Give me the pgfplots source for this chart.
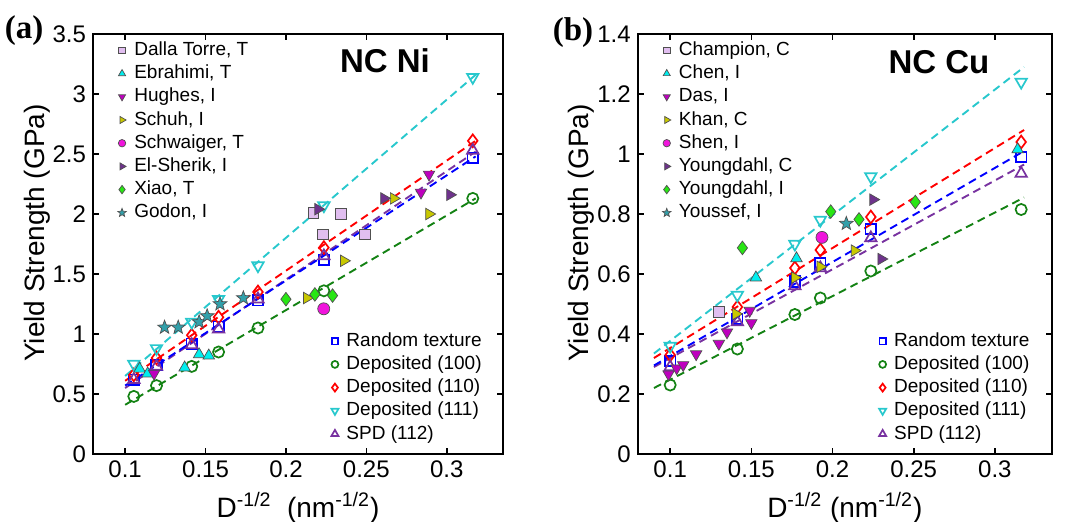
\documentclass[border=0pt]{standalone}
\usepackage{fontspec}
\setmainfont{Liberation Sans}
\newfontfamily\serifbf{Liberation Serif}
\usepackage{pgfplots}
\pgfplotsset{compat=1.18}
\usetikzlibrary{plotmarks}

\definecolor{simblue}{RGB}{0,0,255}
\definecolor{simgreen}{RGB}{20,130,20}
\definecolor{simred}{RGB}{255,0,0}
\definecolor{simcyan}{RGB}{40,200,205}
\definecolor{simpurple}{RGB}{120,50,160}
\definecolor{edgegray}{RGB}{80,80,80}
\definecolor{lavender}{RGB}{225,190,240}
\definecolor{ebcyan}{RGB}{0,238,238}
\definecolor{hughes}{RGB}{190,0,190}
\definecolor{olive}{RGB}{200,200,0}
\definecolor{schwaiger}{RGB}{240,20,220}
\definecolor{elsherik}{RGB}{110,50,140}
\definecolor{xiao}{RGB}{40,230,20}
\definecolor{godon}{RGB}{50,160,170}

% filled five-pointed star
\pgfdeclareplotmark{fstar}{%
  \pgfpathmoveto{\pgfqpointpolar{90}{\pgfplotmarksize}}%
  \pgfpathlineto{\pgfqpointpolar{126}{0.42\pgfplotmarksize}}%
  \pgfpathlineto{\pgfqpointpolar{162}{\pgfplotmarksize}}%
  \pgfpathlineto{\pgfqpointpolar{198}{0.42\pgfplotmarksize}}%
  \pgfpathlineto{\pgfqpointpolar{234}{\pgfplotmarksize}}%
  \pgfpathlineto{\pgfqpointpolar{270}{0.42\pgfplotmarksize}}%
  \pgfpathlineto{\pgfqpointpolar{306}{\pgfplotmarksize}}%
  \pgfpathlineto{\pgfqpointpolar{342}{0.42\pgfplotmarksize}}%
  \pgfpathlineto{\pgfqpointpolar{18}{\pgfplotmarksize}}%
  \pgfpathlineto{\pgfqpointpolar{54}{0.42\pgfplotmarksize}}%
  \pgfpathclose
  \pgfusepathqfillstroke
}

\pgfplotsset{
  panel/.style={
    scale only axis, height=210pt,
    xmin=0.08, xmax=0.335,
    xtick={0.1,0.15,0.2,0.25,0.3},
    tick align=inside,
    major tick length=3pt,
    every tick/.style={black, line width=0.8pt},
    axis line style={line width=0.9pt},
    tick label style={font=\fontsize{12}{14}\selectfont},
    /pgf/number format/assume math mode=true,
    clip=false,
    legend cell align=left,
    legend style={draw=none, fill=none, inner sep=0pt,
      font=\fontsize{9.5}{11}\selectfont, row sep=0pt, column sep=4pt,
      nodes={inner xsep=0pt, inner ysep=1.25pt, text height=7.1pt, text depth=2pt}},
    legend image code/.code={\draw[##1, every mark/.append style={scale=0.62}] plot coordinates {(0cm,0cm)};},
  },
  simfit/.style={line width=0.95pt, dash pattern=on 4pt off 2.5pt, forget plot},
}

\begin{document}
\begin{tikzpicture}
\useasboundingbox (0,0) rectangle (536pt,260.5pt);

% ================= (a) NC Ni =================
\begin{axis}[panel, at={(46.5pt,33.5pt)}, anchor=south west, width=205pt,
  ymin=0, ymax=3.5, ytick={0,0.5,1,1.5,2,2.5,3,3.5},
  legend style={at={(axis description cs:0,0)}, anchor=south west, xshift=119pt, yshift=4pt}]
\addplot[simfit, simgreen]  coordinates {(0.1,0.41) (0.318,2.13)};
\addplot[simfit, simcyan]   coordinates {(0.1,0.65) (0.318,3.16)};
\addplot[simfit, simred]    coordinates {(0.1,0.61) (0.318,2.61)};
\addplot[simfit, simpurple] coordinates {(0.1,0.55) (0.318,2.52)};
\addplot[simfit, simblue]   coordinates {(0.1,0.57) (0.318,2.48)};

\addplot[only marks, simblue, mark=square, mark size=2.6pt, line width=0.85pt] coordinates {
  (0.1054,0.62) (0.1195,0.74) (0.1414,0.92) (0.1581,1.06) (0.1826,1.28) (0.2236,1.62) (0.3162,2.47)};
\addlegendentry{Random texture}
\addplot[only marks, simgreen, mark=o, mark size=2.8pt, line width=0.85pt] coordinates {
  (0.1054,0.48) (0.1195,0.57) (0.1414,0.73) (0.1581,0.85) (0.1826,1.05) (0.2236,1.36) (0.3162,2.13)};
\addlegendentry{Deposited (100)}
\addplot[only marks, simred, mark=diamond, mark size=3.2pt, line width=0.85pt] coordinates {
  (0.1054,0.66) (0.1195,0.80) (0.1414,0.99) (0.1581,1.14) (0.1826,1.35) (0.2236,1.72) (0.3162,2.61)};
\addlegendentry{Deposited (110)}
\addplot[only marks, simcyan, mark=triangle, mark size=3.3pt, line width=0.85pt, mark options={rotate=180}] coordinates {
  (0.1054,0.75) (0.1195,0.88) (0.1414,1.10) (0.1581,1.29) (0.1826,1.57) (0.2236,2.07) (0.3162,3.14)};
\addlegendentry{Deposited (111)}
\addplot[only marks, simpurple, mark=triangle, mark size=3.3pt, line width=0.85pt] coordinates {
  (0.1054,0.62) (0.1195,0.73) (0.1414,0.91) (0.1581,1.04) (0.1826,1.29) (0.2236,1.65) (0.3162,2.53)};
\addlegendentry{SPD (112)}
\end{axis}

\begin{axis}[panel, hide axis, at={(46.5pt,33.5pt)}, anchor=south west, width=205pt,
  ymin=0, ymax=3.5,
  legend style={at={(axis description cs:0,1)}, anchor=north west, xshift=12.2pt, yshift=-2.2pt}]
\addplot[only marks, mark=square*, mark size=2.7pt, draw=edgegray, fill=lavender, line width=0.35pt] coordinates {
  (0.217,2.01) (0.234,2.00) (0.223,1.83) (0.249,1.83)};
\addlegendentry{Dalla Torre, T}
\addplot[only marks, mark=triangle*, mark size=3.3pt, draw=edgegray, fill=ebcyan, line width=0.35pt] coordinates {
  (0.109,0.71) (0.114,0.67) (0.137,0.72) (0.146,0.83) (0.152,0.82)};
\addlegendentry{Ebrahimi, T}
\addplot[only marks, mark=triangle*, mark size=3.3pt, draw=edgegray, fill=hughes, line width=0.35pt, mark options={rotate=180}] coordinates {
  (0.118,0.67) (0.284,2.18) (0.289,2.33)};
\addlegendentry{Hughes, I}
\addplot[only marks, mark=triangle*, mark size=3.3pt, draw=edgegray, fill=olive, line width=0.35pt, mark options={rotate=-90}] coordinates {
  (0.213,1.30) (0.236,1.61) (0.267,2.13) (0.289,2.00)};
\addlegendentry{Schuh, I}
\addplot[only marks, mark=*, mark size=3pt, draw=edgegray, fill=schwaiger, line width=0.35pt] coordinates {
  (0.2235,1.21)};
\addlegendentry{Schwaiger, T}
\addplot[only marks, mark=triangle*, mark size=3.3pt, draw=edgegray, fill=elsherik, line width=0.35pt, mark options={rotate=-90}] coordinates {
  (0.220,2.04) (0.261,2.13) (0.302,2.16)};
\addlegendentry{El-Sherik, I}
\addplot[only marks, mark=diamond*, mark size=3.4pt, draw=edgegray, fill=xiao, line width=0.35pt] coordinates {
  (0.200,1.29) (0.218,1.33) (0.229,1.32)};
\addlegendentry{Xiao, T}
\addplot[only marks, mark=fstar, mark size=3.6pt, draw=edgegray, fill=godon, line width=0.35pt] coordinates {
  (0.1245,1.055) (0.133,1.055) (0.146,1.10) (0.151,1.15) (0.159,1.25) (0.1735,1.30)};
\addlegendentry{Godon, I}
\end{axis}

% ================= (b) NC Cu =================
\begin{axis}[panel, at={(318.85pt,33.5pt)}, anchor=south west, width=207pt,
  ymin=0, ymax=1.4, ytick={0,0.2,0.4,0.6,0.8,1,1.2,1.4},
  legend style={at={(axis description cs:0,0)}, anchor=south west, xshift=120.5pt, yshift=4pt}]
\addplot[simfit, simgreen]  coordinates {(0.09,0.22) (0.318,0.855)};
\addplot[simfit, simcyan]   coordinates {(0.09,0.335) (0.318,1.29)};
\addplot[simfit, simred]    coordinates {(0.09,0.32) (0.318,1.08)};
\addplot[simfit, simpurple] coordinates {(0.09,0.29) (0.318,0.965)};
\addplot[simfit, simblue]   coordinates {(0.09,0.295) (0.318,1.01)};

\addplot[only marks, simblue, mark=square, mark size=2.6pt, line width=0.85pt] coordinates {
  (0.1,0.31) (0.1414,0.45) (0.1768,0.575) (0.1925,0.635) (0.2236,0.75) (0.3162,0.99)};
\addlegendentry{Random texture}
\addplot[only marks, simgreen, mark=o, mark size=2.8pt, line width=0.85pt] coordinates {
  (0.1,0.23) (0.1414,0.35) (0.1768,0.465) (0.1925,0.52) (0.2236,0.61) (0.3162,0.815)};
\addlegendentry{Deposited (100)}
\addplot[only marks, simred, mark=diamond, mark size=3.2pt, line width=0.85pt] coordinates {
  (0.1,0.33) (0.1414,0.49) (0.1768,0.62) (0.1925,0.68) (0.2236,0.79) (0.3162,1.04)};
\addlegendentry{Deposited (110)}
\addplot[only marks, simcyan, mark=triangle, mark size=3.3pt, line width=0.85pt, mark options={rotate=180}] coordinates {
  (0.1,0.36) (0.1414,0.53) (0.1768,0.70) (0.1925,0.78) (0.2236,0.925) (0.3162,1.24)};
\addlegendentry{Deposited (111)}
\addplot[only marks, simpurple, mark=triangle, mark size=3.3pt, line width=0.85pt] coordinates {
  (0.1,0.29) (0.1414,0.44) (0.1768,0.56) (0.1925,0.62) (0.2236,0.72) (0.3162,0.935)};
\addlegendentry{SPD (112)}
\end{axis}

\begin{axis}[panel, hide axis, at={(318.85pt,33.5pt)}, anchor=south west, width=207pt,
  ymin=0, ymax=1.4,
  legend style={at={(axis description cs:0,1)}, anchor=north west, xshift=12.2pt, yshift=-2.2pt}]
\addplot[only marks, mark=square*, mark size=2.7pt, draw=edgegray, fill=lavender, line width=0.35pt] coordinates {
  (0.130,0.474)};
\addlegendentry{Champion, C}
\addplot[only marks, mark=triangle*, mark size=3.3pt, draw=edgegray, fill=ebcyan, line width=0.35pt] coordinates {
  (0.1528,0.588) (0.1778,0.652) (0.314,1.015)};
\addlegendentry{Chen, I}
\addplot[only marks, mark=triangle*, mark size=3.3pt, draw=edgegray, fill=hughes, line width=0.35pt, mark options={rotate=180}] coordinates {
  (0.099,0.266) (0.104,0.286) (0.108,0.297) (0.116,0.333) (0.130,0.368) (0.135,0.406) (0.149,0.478) (0.150,0.437)};
\addlegendentry{Das, I}
\addplot[only marks, mark=triangle*, mark size=3.3pt, draw=edgegray, fill=olive, line width=0.35pt, mark options={rotate=-90}] coordinates {
  (0.1405,0.467) (0.1768,0.588) (0.1925,0.624) (0.2136,0.678)};
\addlegendentry{Khan, C}
\addplot[only marks, mark=*, mark size=3pt, draw=edgegray, fill=schwaiger, line width=0.35pt] coordinates {
  (0.1935,0.722)};
\addlegendentry{Shen, I}
\addplot[only marks, mark=triangle*, mark size=3.3pt, draw=edgegray, fill=elsherik, line width=0.35pt, mark options={rotate=-90}] coordinates {
  (0.225,0.848) (0.230,0.650)};
\addlegendentry{Youngdahl, C}
\addplot[only marks, mark=diamond*, mark size=3.4pt, draw=edgegray, fill=xiao, line width=0.35pt] coordinates {
  (0.1445,0.687) (0.1989,0.808) (0.2163,0.782) (0.251,0.840)};
\addlegendentry{Youngdahl, I}
\addplot[only marks, mark=fstar, mark size=3.6pt, draw=edgegray, fill=godon, line width=0.35pt] coordinates {
  (0.2085,0.768)};
\addlegendentry{Youssef, I}
\end{axis}

% ---------- labels ----------
\node[font=\serifbf\bfseries\fontsize{16.5}{18}\selectfont] at (12pt,245pt) {(a)};
\node[font=\serifbf\bfseries\fontsize{16.5}{18}\selectfont] at (286.5pt,244pt) {(b)};
\node[font=\bfseries\fontsize{16.5}{18}\selectfont] at (192.5pt,230pt) {NC Ni};
\node[font=\bfseries\fontsize{16.5}{18}\selectfont] at (469.5pt,229.6pt) {NC Cu};
\node[rotate=90, font=\fontsize{14}{16}\selectfont] at (18.5pt,144pt) {Yield Strength (GPa)};
\node[rotate=90, font=\fontsize{14}{16}\selectfont] at (290.5pt,144pt) {Yield Strength (GPa)};
\node[anchor=base, font=\fontsize{14}{16}\selectfont] at (149pt,2pt) {D\textsuperscript{-1/2}\hspace{0.55em}(nm\textsuperscript{-1/2})};
\node[anchor=base, font=\fontsize{14}{16}\selectfont] at (422.4pt,2pt) {D\textsuperscript{-1/2} (nm\textsuperscript{-1/2})};
\end{tikzpicture}
\end{document}
